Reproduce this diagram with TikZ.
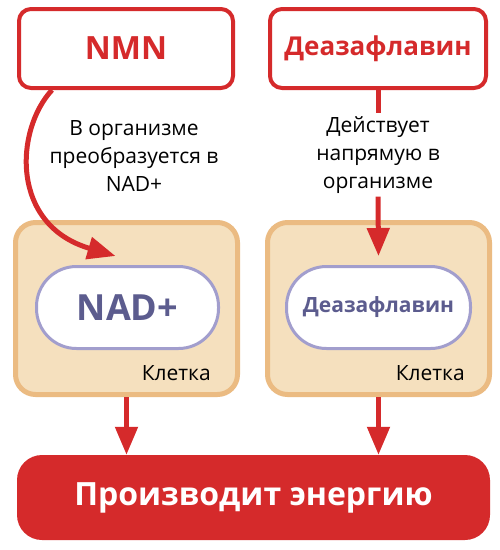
\documentclass[tikz,border=0pt]{standalone}
\usepackage{fontspec}
\setmainfont{Open Sans}
\usetikzlibrary{arrows.meta}
\definecolor{myred}{HTML}{D52A2B}
\definecolor{celltan}{HTML}{F5E0BE}
\definecolor{cellborder}{HTML}{EBBB82}
\definecolor{pillborder}{HTML}{A29ECD}
\definecolor{pilltext}{HTML}{5C5C8E}
\begin{document}
\begin{tikzpicture}[x=1pt,y=-1pt,
  topbox/.style={draw=myred, line width=4pt, fill=white, rounded corners=12pt,
    minimum height=79pt, text=myred, inner sep=0pt},
  cellbox/.style={draw=cellborder, line width=5pt, fill=celltan, rounded corners=20pt,
    minimum width=222pt, minimum height=172pt, inner sep=0pt},
  pill/.style={draw=pillborder, line width=3pt, fill=white, rounded corners=40pt,
    minimum height=82pt, text=pilltext, inner sep=0pt},
  lbl/.style={font=\fontsize{21}{28}\selectfont, align=center, inner sep=3pt},
  arr/.style={draw=myred, line width=5pt, -{Triangle[width=22pt,length=28pt]}},
  link/.style={draw=myred, line width=5pt},
  prodbox/.style={fill=myred, rounded corners=25pt, minimum width=473pt, minimum height=85pt,
    text=white, font=\bfseries\fontsize{32}{40}\selectfont}]
\useasboundingbox (0,0) rectangle (500,550);
% top boxes
\node[topbox, minimum width=214pt, font=\bfseries\fontsize{32}{40}\selectfont] (nmn) at (126,48.5) {NMN};
\node[topbox, minimum width=216pt, font=\bfseries\fontsize{26}{32}\selectfont] (deaz) at (378,48.5) {Деазафлавин};
% cells
\node[cellbox] (cellL) at (126.5,308.5) {};
\node[cellbox] (cellR) at (378.5,308.5) {};
\node[pill, minimum width=182pt, font=\bfseries\fontsize{36}{40}\selectfont] (nad) at (127.5,307.5) {NAD+};
\node[pill, minimum width=184pt, font=\bfseries\fontsize{21}{28}\selectfont] (deazin) at (378.5,307.5) {Деазафлавин};
\node[lbl, anchor=east] (klL) at (214,373) {Клетка};
\node[lbl, anchor=east] (klR) at (468,373) {Клетка};
% labels
\node[lbl] (txtL) at (134,156) {В организме\\преобразуется в\\NAD+};
\node[lbl] (txtR) at (378,155) {Действует\\напрямую в\\организме};
% bottom
\node[prodbox] (prod) at (253.5,497.5) {Производит энергию};
% connectors
\draw[arr] ([xshift=-74pt]nmn.south) .. controls (15,130) and (10,225) .. ([xshift=-12pt,yshift=9pt]nad.north);
\draw[link] (deaz.south) -- (txtR.north);
\draw[arr] (txtR.south) -- ([yshift=9pt]deazin.north);
\draw[arr] (cellL.south) -- (cellL.south |- prod.north);
\draw[arr] (cellR.south) -- (cellR.south |- prod.north);
\end{tikzpicture}
\end{document}
